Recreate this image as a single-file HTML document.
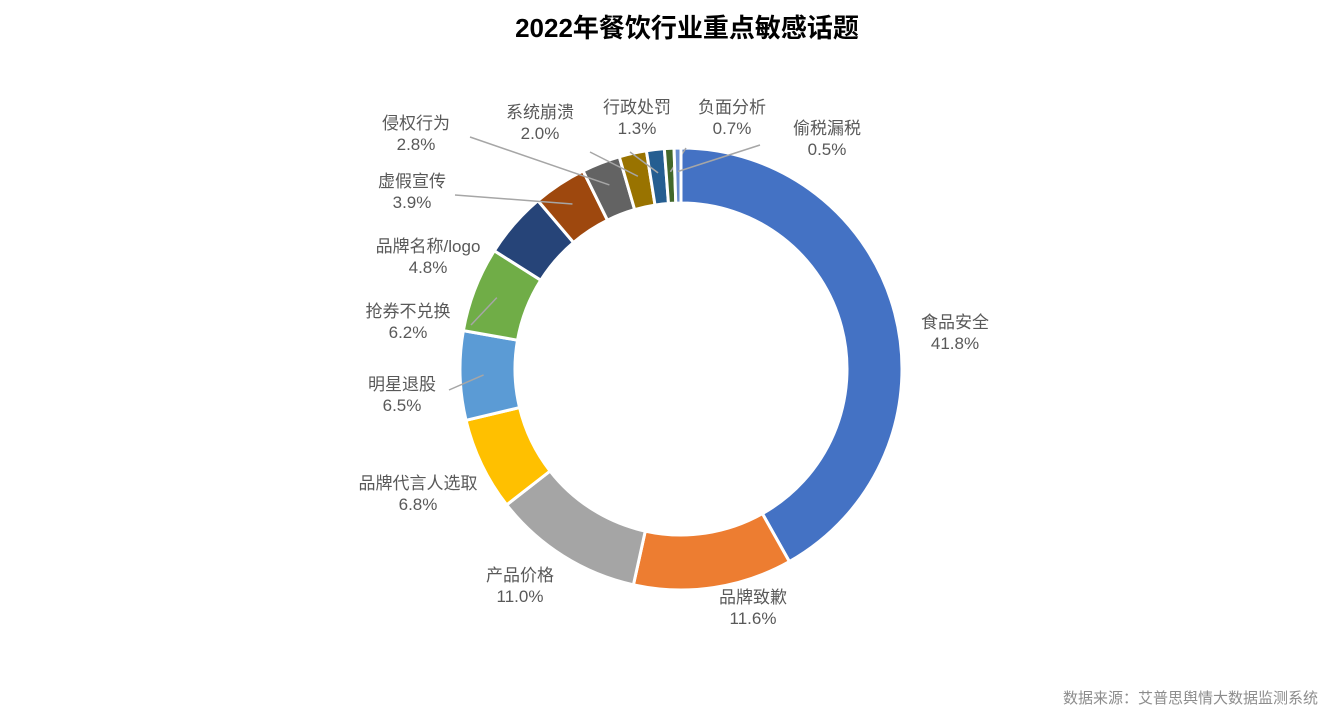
<!DOCTYPE html>
<html><head><meta charset="utf-8"><style>
body{margin:0;background:#fff;width:1334px;height:715px;overflow:hidden;font-family:"Liberation Sans","Noto Sans CJK SC",sans-serif}
svg text{font-family:"Liberation Sans","Noto Sans CJK SC",sans-serif}
</style></head><body>
<svg id="c" width="1334" height="715">
<text x="687" y="37" text-anchor="middle" font-size="26" font-weight="bold" fill="#000">2022年餐饮行业重点敏感话题</text>
<text x="1318" y="703" text-anchor="end" font-size="15" fill="#8c8c8c">数据来源：艾普思舆情大数据监测系统</text>
</svg>
<script>
const categories=["食品安全","品牌致歉","产品价格","品牌代言人选取","明星退股","抢券不兑换","品牌名称/logo","虚假宣传","侵权行为","系统崩溃","行政处罚","负面分析","偷税漏税"];
const values=[41.8,11.6,11.0,6.8,6.5,6.2,4.8,3.9,2.8,2.0,1.3,0.7,0.5];
const colors=["#4472C4","#ED7D31","#A5A5A5","#FFC000","#5B9BD5","#70AD47","#264478","#9E480E","#636363","#997300","#255E91","#43682B","#698ED0"];
// label anchor positions (layout)
const labelPos=[[955,328],[753,603],[520,581],[418,489],[402,390],[408,317],[428,252],[412,187],[416,129],[540,118],[637,113],[732,113],[827,134]];
const leader=[false,false,false,false,true,true,false,true,true,true,true,true,true];
const lineEnd=[null,null,null,null,[449,390],[471,325],null,[455,195],[470,137],[590,152],[630,152],[686,148],[760,145]];
const svg=document.getElementById('c');const NS="http://www.w3.org/2000/svg";
const cx=681,cy=369,R=221,r=166;
const total=values.reduce((a,b)=>a+b,0);
function pt(a,rad){return [cx+rad*Math.sin(a),cy-rad*Math.cos(a)];}
let acc=0;
values.forEach((v,i)=>{
 const a0=acc/total*2*Math.PI;acc+=v;const a1=acc/total*2*Math.PI;
 const large=(a1-a0)>Math.PI?1:0;
 const p0=pt(a0,R),p1=pt(a1,R),q1=pt(a1,r),q0=pt(a0,r);
 const p=document.createElementNS(NS,'path');
 p.setAttribute('d',`M${p0[0]},${p0[1]}A${R},${R} 0 ${large} 1 ${p1[0]},${p1[1]}L${q1[0]},${q1[1]}A${r},${r} 0 ${large} 0 ${q0[0]},${q0[1]}Z`);
 p.setAttribute('fill',colors[i]);p.setAttribute('stroke','#fff');p.setAttribute('stroke-width','3');
 
 
 svg.appendChild(p);
 const am=(a0+a1)/2;
 if(leader[i]){
  const m=pt(am,(R+r)/2+4);
  const l=document.createElementNS(NS,'polyline');
  const e=lineEnd[i];
  l.setAttribute('points',`${e[0]},${e[1]} ${m[0]},${m[1]}`);
  l.setAttribute('stroke','#a6a6a6');l.setAttribute('fill','none');l.setAttribute('stroke-width','1.5');
  
  
  svg.appendChild(l);
 }
 const [lx,ly]=labelPos[i];
 const t=document.createElementNS(NS,'text');
 t.setAttribute('x',lx);t.setAttribute('y',ly);t.setAttribute('text-anchor','middle');
 t.setAttribute('font-size','17');t.setAttribute('fill','#595959');
 
 
 const s1=document.createElementNS(NS,'tspan');s1.setAttribute('x',lx);s1.textContent=categories[i];
 const s2=document.createElementNS(NS,'tspan');s2.setAttribute('x',lx);s2.setAttribute('dy','21');s2.textContent=v.toFixed(1)+'%';
 t.appendChild(s1);t.appendChild(s2);svg.appendChild(t);
});
</script>
</body></html>
